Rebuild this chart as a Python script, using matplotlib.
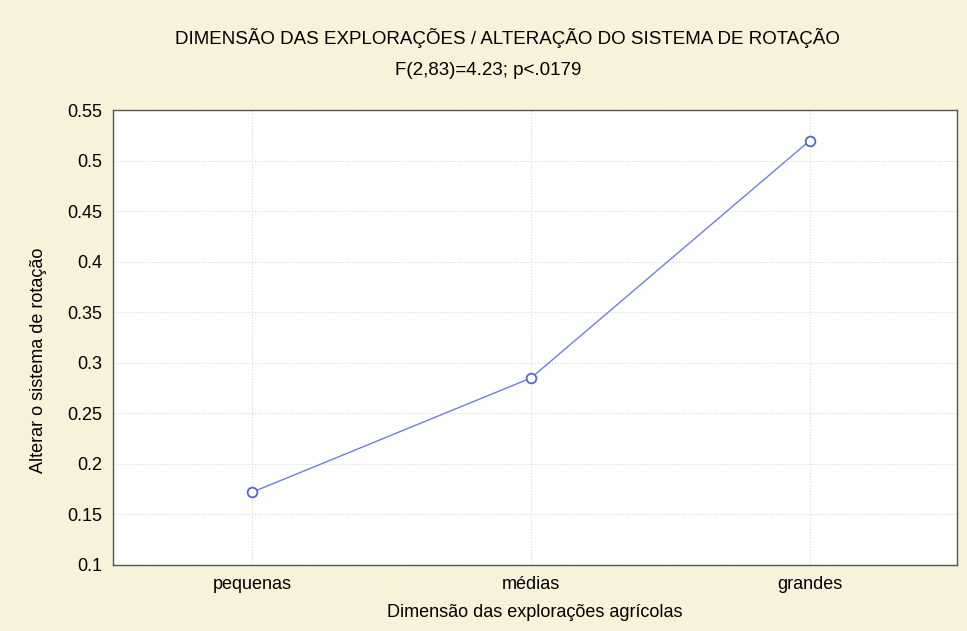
import matplotlib.pyplot as plt

categorias = ['pequenas', 'médias', 'grandes']
medias = [0.172, 0.285, 0.520]
y_ticks = [0.1, 0.15, 0.2, 0.25, 0.3, 0.35, 0.4, 0.45, 0.5, 0.55]
y_labels = ['0.1', '0.15', '0.2', '0.25', '0.3', '0.35', '0.4', '0.45', '0.5', '0.55']

plt.rcParams['font.family'] = ['Liberation Sans', 'DejaVu Sans']

fig = plt.figure(figsize=(9.67, 6.31), dpi=100, facecolor='#f8f2da')
ax = fig.add_axes([0.117, 0.105, 0.873, 0.72])
ax.set_facecolor('white')

x = list(range(len(categorias)))
ax.plot(x, medias, color='#6f7fe0', linewidth=1, marker='o', markersize=7,
        markerfacecolor='white', markeredgecolor='#5566cc', markeredgewidth=1.3)

ax.set_xlim(-0.5, 2.53)
ax.set_ylim(0.1, 0.55)
ax.set_xticks(x)
ax.set_xticklabels(categorias, fontsize=13)
ax.set_yticks(y_ticks)
ax.set_yticklabels(y_labels, fontsize=13)
ax.tick_params(length=0, pad=8)

ax.grid(True, color='#d8d8d8', linestyle=':', linewidth=0.8)
for s in ax.spines.values():
    s.set_color('#555555')
    s.set_linewidth(1)

ax.set_xlabel('Dimensão das explorações agrícolas', fontsize=13, labelpad=8)
ax.set_ylabel('Alterar o sistema de rotação', fontsize=13)
ax.yaxis.set_label_coords(-0.078, 0.45)

fig.text(0.525, 0.94, 'DIMENSÃO DAS EXPLORAÇÕES / ALTERAÇÃO DO SISTEMA DE ROTAÇÃO',
         ha='center', va='center', fontsize=13.5)
fig.text(0.505, 0.888, 'F(2,83)=4.23; p<.0179', ha='center', va='center', fontsize=13.5)

fig.savefig('out.png', dpi=100, facecolor=fig.get_facecolor())
